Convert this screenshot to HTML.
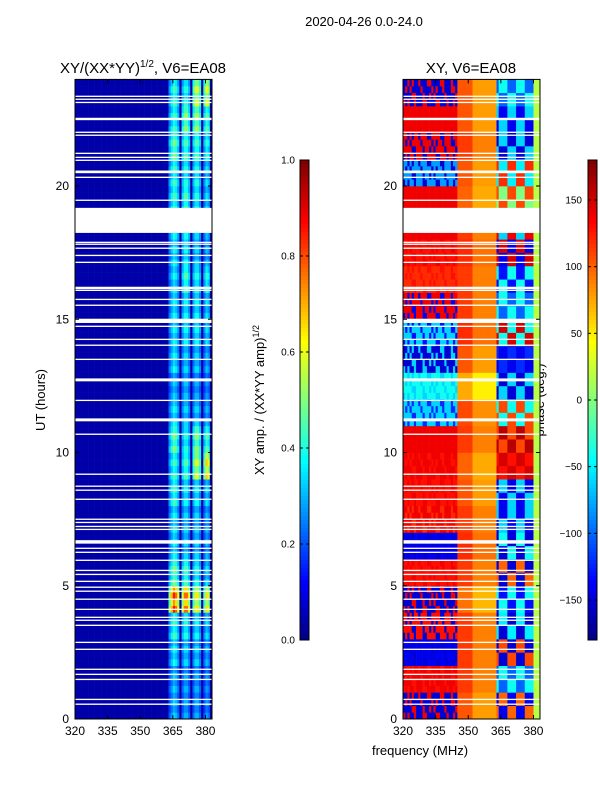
<!DOCTYPE html>
<html><head><meta charset="utf-8"><style>
body{margin:0;background:#fff;width:600px;height:800px;overflow:hidden}
svg text{font-family:"Liberation Sans",sans-serif;fill:#000}
</style></head><body>
<svg id="fig" width="600" height="800" xmlns="http://www.w3.org/2000/svg">
<text x="364" y="26" font-size="13" text-anchor="middle">2020-04-26 0.0-24.0</text>
<text x="143" y="73" font-size="15" text-anchor="middle">XY/(XX*YY)<tspan font-size="10" dy="-6">1/2</tspan><tspan dy="6">, V6=EA08</tspan></text>
<text x="471" y="73" font-size="15" text-anchor="middle">XY, V6=EA08</text>
<text x="420" y="755" font-size="13" text-anchor="middle">frequency (MHz)</text>
<text transform="translate(45,400) rotate(-90)" font-size="13" text-anchor="middle">UT (hours)</text>
<text transform="translate(264,400) rotate(-90)" font-size="13" text-anchor="middle">XY amp. / (XX*YY amp)<tspan font-size="9" dy="-5">1/2</tspan></text>
<text transform="translate(544,400) rotate(-90)" font-size="13" text-anchor="middle">phase (deg.)</text>
<g id="left"></g>
<g id="right"></g>
<g id="cb"></g>
<g id="axes"></g>
</svg>
<script>
// ---- data ----
const xTicks=[320,335,350,365,380];
const yTicks=[0,5,10,15,20];
const ampTicks=[0.0,0.2,0.4,0.6,0.8,1.0];
const phaseTicks=[-150,-100,-50,0,50,100,150];
// flagged (white) hour intervals: start hour, width
const gapStart=[23.34,23.23,23.11,22.47,21.99,21.88,21.2,21.05,20.94,20.48,20.3,19.44,18.24,17.86,17.79,17.64,17.37,17.11,16.13,16.06,15.72,15.5,14.86,14.71,14.22,14.0,13.47,12.67,11.93,11.17,10.66,9.16,8.71,8.56,8.22,7.47,7.35,7.2,7.09,6.58,6.38,6.23,5.93,5.55,5.4,5.14,4.92,4.77,4.47,4.09,3.79,3.68,3.49,2.85,2.59,1.84,1.65,1.46,0.71,0.53];
const gapWidth=[0.05,0.05,0.05,0.09,0.05,0.05,0.05,0.05,0.05,0.1,0.05,0.05,0.94,0.05,0.05,0.05,0.05,0.05,0.09,0.05,0.05,0.05,0.16,0.05,0.05,0.05,0.05,0.11,0.05,0.11,0.05,0.05,0.05,0.05,0.05,0.05,0.05,0.05,0.05,0.13,0.05,0.05,0.05,0.05,0.05,0.05,0.05,0.05,0.05,0.05,0.05,0.05,0.05,0.05,0.05,0.05,0.05,0.05,0.05,0.05];
// amplitude per hour (0..23) for the four bright bands
const band1=[0.3,0.3,0.35,0.4,0.75,0.45,0.35,0.35,0.4,0.4,0.45,0.35,0.3,0.35,0.35,0.35,0.35,0.35,0.35,0.4,0.4,0.45,0.4,0.4];
const band2=[0.28,0.28,0.32,0.38,0.72,0.42,0.32,0.32,0.36,0.42,0.38,0.32,0.3,0.32,0.36,0.36,0.42,0.36,0.36,0.42,0.38,0.42,0.48,0.38];
const band3=[0.28,0.28,0.32,0.36,0.6,0.38,0.32,0.32,0.36,0.55,0.48,0.32,0.28,0.32,0.36,0.36,0.38,0.32,0.32,0.38,0.38,0.42,0.5,0.55];
const band4=[0.25,0.25,0.28,0.32,0.58,0.32,0.28,0.28,0.32,0.6,0.42,0.28,0.25,0.28,0.32,0.32,0.38,0.28,0.28,0.32,0.32,0.38,0.42,0.55];
const bandLo=[363,368.5,373.5,378.5];
const bandHi=[367.5,372.5,377.5,382];
const ampBase=0.04;
// phase (deg) per hour (0..23) for three frequency regions, plus alternate speckle values
const phaseLowA=[-150,140,-140,130,-150,130,-140,140,130,140,140,-60,-40,-150,-60,140,120,130,140,140,-80,140,140,-150];
const phaseLowB=[140,130,-150,-150,140,140,-150,120,140,130,140,-120,-60,-60,-130,-140,130,140,140,140,-150,-150,140,140];
const phaseMid=[80,90,90,90,70,90,95,90,80,75,90,85,50,80,95,90,90,95,90,75,80,90,80,80];
const phaseHiA=[100,-40,110,-50,-130,100,-40,-140,-60,150,160,110,-150,-140,150,-40,-130,150,140,0,-50,-60,-140,-40];
const phaseHiB=[-140,-100,-150,-150,-40,-150,-150,-60,-140,130,110,-40,-60,-120,-40,-100,-40,-140,-60,110,120,-150,-60,-100];
const phaseEdge=20;

// ---- scales ----
const L={x0:75,x1:212}, R={x0:403,x1:540}, Y0=719, Y1=79.4;
const fMin=320,fMax=383;
function sx(p,f){return p.x0+(f-fMin)/(fMax-fMin)*(p.x1-p.x0);}
function sy(h){return Y0-(h/24)*(Y0-Y1);}
function jet(v){v=Math.max(0,Math.min(1,v));
 const r=Math.max(0,Math.min(1,1.5-Math.abs(4*v-3))),g=Math.max(0,Math.min(1,1.5-Math.abs(4*v-2))),b=Math.max(0,Math.min(1,1.5-Math.abs(4*v-1)));
 return `rgb(${Math.round(r*255)},${Math.round(g*255)},${Math.round(b*255)})`;}
const NS="http://www.w3.org/2000/svg";
function mk(t,a,par){const e=document.createElementNS(NS,t);for(const k in a)e.setAttribute(k,a[k]);par.appendChild(e);return e;}
const gL=document.getElementById('left'),gR=document.getElementById('right'),gC=document.getElementById('cb'),gA=document.getElementById('axes');
const bands=[band1,band2,band3,band4];
const dh=0.25, df=1;
for(let h=0;h<24;h+=dh){
 const hi=Math.floor(h);const sub=Math.round((h-hi)/dh);
 for(let f=fMin;f<fMax;f+=df){
  let v=ampBase;
  for(let b=0;b<4;b++){ if(f>=bandLo[b]&&f<bandHi[b]){ const c=(f-bandLo[b])/(bandHi[b]-bandLo[b]); v=bands[b][hi]*(0.7+0.5*(1-Math.abs(c-0.5)*2))*(sub%2?0.85:1.0);} }
  let x=sx(L,f),w=sx(L,f+df)-x+0.3,y=sy(h+dh),hh=sy(h)-y+0.3;
  let r=mk('rect',{x:x,y:y,width:w,height:hh,fill:jet(v)},gL);
  
  
  let p;
  const fi=Math.floor(f);
  if(f<345) p=((fi*3+sub*5)%7===0||(fi+sub)%5===0)?phaseLowB[hi]:phaseLowA[hi];
  else if(f<363) p=phaseMid[hi]+(f<352?25:0);
  else if(f<380) p=((Math.floor(f/4)+(sub>>1))%2===0)?phaseHiA[hi]:phaseHiB[hi];
  else p=phaseEdge;
  x=sx(R,f);w=sx(R,f+df)-x+0.3;
  r=mk('rect',{x:x,y:y,width:w,height:hh,fill:jet((p+180)/360)},gR);
  
  
 }
}
for(let i=0;i<gapStart.length;i++){
 const y=sy(gapStart[i]+gapWidth[i]),hh=sy(gapStart[i])-y;
 for(const p of [L,R]){const r=mk('rect',{x:p.x0,y:y,width:p.x1-p.x0,height:Math.max(1.3,hh),fill:'#fff'},gA);
 
 }
}
for(const p of [L,R]){
 const fr=mk('rect',{x:p.x0,y:Y1,width:p.x1-p.x0,height:Y0-Y1,fill:'none',stroke:'#000','stroke-width':1},gA);
 
 
 for(const t of xTicks){const x=sx(p,t);
  mk('line',{x1:x,x2:x,y1:Y0,y2:Y0-4,stroke:'#000'},gA);mk('line',{x1:x,x2:x,y1:Y1,y2:Y1+4,stroke:'#000'},gA);
  const tx=mk('text',{x:x,y:Y0+16,'font-size':12,'text-anchor':'middle'},gA);tx.textContent=t;
  
  }
 for(const t of yTicks){const y=sy(t);
  mk('line',{x1:p.x0,x2:p.x0+4,y1:y,y2:y,stroke:'#000'},gA);mk('line',{x1:p.x1,x2:p.x1-4,y1:y,y2:y,stroke:'#000'},gA);
  const tx=mk('text',{x:p.x0-6,y:y+4,'font-size':12,'text-anchor':'end'},gA);tx.textContent=t;
  
  }
}
function cbar(x,lo,hi,ticks,labelX,anchor,name){
 const top=160,bot=640;
 for(let i=0;i<120;i++){const y=top+(bot-top)*i/120;
  mk('rect',{x:x,y:y,width:9,height:(bot-top)/120+0.5,fill:jet(1-i/120)},gC);}
 const fr=mk('rect',{x:x,y:top,width:9,height:bot-top,fill:'none',stroke:'#000'},gC);
 
 
 for(const t of ticks){const y=bot-(t-lo)/(hi-lo)*(bot-top);
  mk('line',{x1:x,x2:x+3,y1:y,y2:y,stroke:'#000'},gC);mk('line',{x1:x+9,x2:x+6,y1:y,y2:y,stroke:'#000'},gC);
  const tx=mk('text',{x:labelX,y:y+3.5,'font-size':10,'text-anchor':anchor},gC);
  tx.textContent=(lo===0?t.toFixed(1):(t<0?'\u2212'+(-t):t));
  
  }
}
cbar(300,0,1,ampTicks,295,'end','amp-colorbar');
cbar(588,-180,180,phaseTicks,582,'end','phase-colorbar');
</script>
</body></html>
